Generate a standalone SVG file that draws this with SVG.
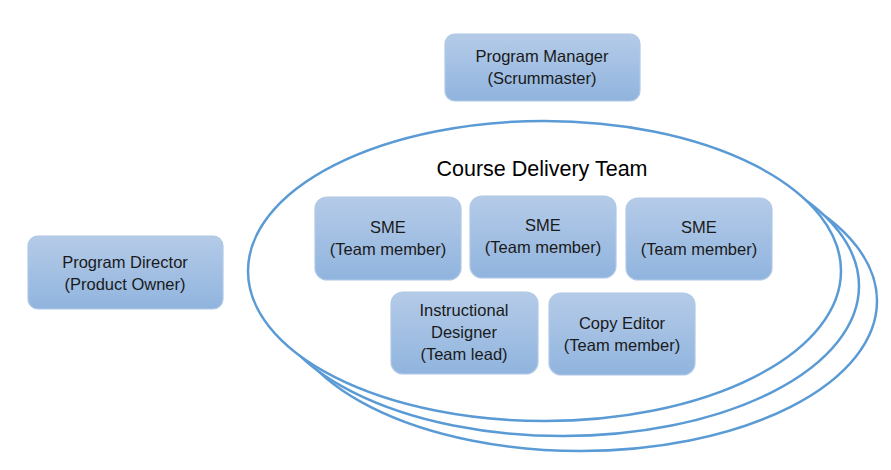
<svg xmlns="http://www.w3.org/2000/svg" width="891" height="470" viewBox="0 0 891 470">
<defs>
<linearGradient id="g" x1="0" y1="0" x2="0" y2="1">
<stop offset="0" stop-color="#b5cbe8"/>
<stop offset="1" stop-color="#90b4de"/>
</linearGradient>
</defs>
<style>
.box{fill:url(#g);stroke:#b0c8e6;stroke-width:1.2}
.ell{fill:#ffffff;stroke:#5b9bd5;stroke-width:2.5}
.t{font-family:"Liberation Sans",Arial,sans-serif;font-size:16.5px;fill:#1a1a1a;text-anchor:middle}
.title{font-family:"Liberation Sans",Arial,sans-serif;font-size:21.5px;fill:#000;text-anchor:middle}
</style>
<rect width="891" height="470" fill="#ffffff"/>
<g id="team">
<ellipse class="ell" cx="580.5" cy="301" rx="296.5" ry="150"/>
<ellipse class="ell" cx="562.5" cy="286" rx="296.5" ry="150"/>
<ellipse class="ell" cx="544.5" cy="271" rx="296.5" ry="150"/>
<text class="title" x="542" y="176">Course Delivery Team</text>
</g>
<g id="connectors"></g>
<g id="program-manager">
<rect class="box" x="445" y="34" width="195" height="67" rx="10"/>
<text class="t" x="542" y="62">Program Manager</text>
<text class="t" x="542" y="84">(Scrummaster)</text>
</g>
<g id="program-director">
<rect class="box" x="28" y="236" width="195" height="73" rx="10"/>
<text class="t" x="125" y="268">Program Director</text>
<text class="t" x="125" y="290">(Product Owner)</text>
</g>
<g id="sme1">
<rect class="box" x="315" y="197" width="146" height="83" rx="12"/>
<text class="t" x="388" y="233">SME</text>
<text class="t" x="388" y="255">(Team member)</text>
</g>
<g id="sme2">
<rect class="box" x="470" y="196" width="146" height="82" rx="12"/>
<text class="t" x="543" y="231">SME</text>
<text class="t" x="543" y="253">(Team member)</text>
</g>
<g id="sme3">
<rect class="box" x="626" y="198" width="146" height="82" rx="12"/>
<text class="t" x="699" y="233">SME</text>
<text class="t" x="699" y="255">(Team member)</text>
</g>
<g id="instructional-designer">
<rect class="box" x="391" y="292" width="147" height="82" rx="12"/>
<text class="t" x="464" y="316">Instructional</text>
<text class="t" x="464" y="338">Designer</text>
<text class="t" x="464" y="360">(Team lead)</text>
</g>
<g id="copy-editor">
<rect class="box" x="549" y="293" width="146" height="82" rx="12"/>
<text class="t" x="622" y="329">Copy Editor</text>
<text class="t" x="622" y="351">(Team member)</text>
</g>
</svg>
